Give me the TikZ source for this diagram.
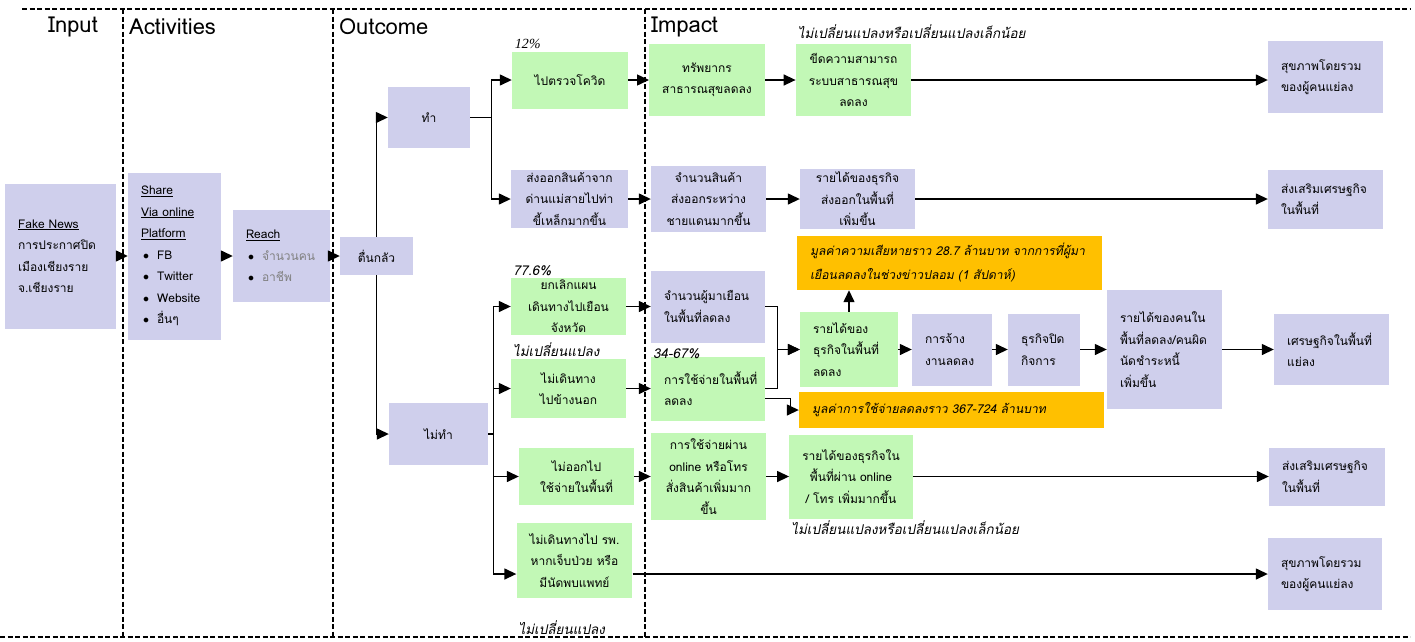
\documentclass[tikz,border=0pt]{standalone}
\usepackage{fontspec}
\setmainfont{Loma}[Script=Thai]
\newfontfamily\thaiit{Loma}[Script=Thai, FakeSlant=0.2]
\newfontfamily\timesit{Liberation Serif}[FakeSlant=0.2]
\usepackage{tikz}
\usetikzlibrary{arrows.meta}
\definecolor{lavfill}{RGB}{207,207,236}
\definecolor{grnfill}{RGB}{194,248,182}
\definecolor{orgfill}{RGB}{255,192,0}
\newcommand{\boxfont}{\fontsize{12}{21.5}\selectfont}
\newcommand{\itm}[1]{\hspace*{2pt}$\bullet$\hspace{8pt}#1}
\tikzstyle{lav} = [rectangle, fill=lavfill, inner xsep=13pt, inner ysep=0pt, font=\boxfont, align=center]
\tikzstyle{grn} = [rectangle, fill=grnfill, inner xsep=13pt, inner ysep=0pt, font=\boxfont, align=center]
\tikzstyle{org} = [rectangle, fill=orgfill, inner xsep=13pt, inner ysep=0pt, font=\thaiit\fontsize{12.2}{24}\selectfont, align=left]
\tikzstyle{note} = [inner sep=2pt, font=\thaiit\fontsize{13.5}{16}\selectfont]
\tikzstyle{head} = [inner sep=0pt, font=\fontsize{22}{26}\selectfont]
\tikzstyle{sep} = [line width=1.3pt, dash pattern=on 5pt off 2.5pt]
\tikzstyle{arrow} = [line width=1.4pt, -{Triangle[length=12pt, width=11pt]}]

\begin{document}
\begin{tikzpicture}[x=1pt, y=1pt, node distance=145pt]
\useasboundingbox (0,0) rectangle (1415,-641);
% column frame
\draw [sep] (22,-9) -- (1410,-9);
\draw [sep] (0,-637) -- (1410,-637);
\draw [sep] (123,-9) -- (123,-637);
\draw [sep] (333,-9) -- (333,-637);
\draw [sep] (645,-9) -- (645,-637);
\node (hinput) [head] at (73,-27) {Input};
\node (hact) [head, anchor=west] at (129,-27) {Activities};
\node (hout) [head, anchor=west] at (339,-27) {Outcome};
\node (himp) [head, anchor=west] at (651,-27) {Impact};

% input and activities
\node (fake) [lav, align=left, text width=85pt, minimum height=145pt] at (60.5,-256) {\underline{Fake News}\\การประกาศปิด\\เมืองเชียงราย\\จ.เชียงราย};
\node (share) [lav, align=left, text width=67pt, minimum height=167pt, right of=fake, xshift=-31pt] {\underline{Share}\\\underline{Via online}\\\underline{Platform}\\\itm{FB}\\\itm{Twitter}\\\itm{Website}\\\itm{อื่นๆ}};
\node (reach) [lav, align=left, text width=71pt, minimum height=92pt, right of=share, xshift=-38pt] {\underline{Reach}\\\itm{\textcolor{gray}{จำนวนคน}}\\\itm{\textcolor{gray}{อาชีพ}}};
\draw [arrow] (fake) -- (share);
\draw [arrow] (share) -- (reach);

% outcome
\node (panic) [lav, minimum width=73pt, minimum height=38pt, right of=reach, xshift=-50pt] {ตื่นกลัว};
\draw [arrow] (reach) -- (panic);
\node (do) [lav, minimum width=82pt, minimum height=61pt, right of=panic, xshift=-92.5pt, yshift=138.5pt] {ทำ};
\node (dont) [lav, minimum width=99pt, minimum height=62pt, right of=panic, xshift=-83pt, yshift=-178pt] {ไม่ทำ};
\draw [arrow] (panic.north) |- (do.west);
\draw [arrow] (panic.south) |- (dont.west);
\node (covid) [grn, minimum width=116pt, minimum height=57pt, right of=do, xshift=-4pt, yshift=37.5pt] {ไปตรวจโควิด};
\node (export) [lav, minimum width=117pt, minimum height=58pt, right of=do, xshift=-4.5pt, yshift=-81.5pt] {ส่งออกสินค้าจาก\\ด่านแม่สายไปท่า\\ขี้เหล็กมากขึ้น};
\draw [arrow] (do.east) -- ++(21,0) |- (covid.west);
\draw [arrow] (do.east) -- ++(21,0) |- (export.west);
\node (cancel) [grn, minimum width=115pt, minimum height=57pt, right of=dont, xshift=-15pt, yshift=127.5pt] {ยกเลิกแผน\\เดินทางไปเยือน\\จังหวัด};
\node (notravel) [grn, minimum width=115pt, minimum height=59pt, right of=dont, xshift=-15pt, yshift=45.5pt] {ไม่เดินทาง\\ไปข้างนอก};
\node (noout) [grn, minimum width=115pt, minimum height=57pt, right of=dont, xshift=-7pt, yshift=-42.5pt] {ไม่ออกไป\\ใช้จ่ายในพื้นที่};
\node (nohosp) [grn, minimum width=115pt, minimum height=75pt, right of=dont, xshift=-9pt, yshift=-126.5pt] {ไม่เดินทางไป รพ.\\หากเจ็บป่วย หรือ\\มีนัดพบแพทย์};

% impact
\node (res) [grn, minimum width=112pt, minimum height=72pt, right of=covid, xshift=-8pt] {ทรัพยากร\\สาธารณสุขลดลง};
\node (cap) [grn, minimum width=115pt, minimum height=72pt, right of=res, xshift=1.5pt] {ขีดความสามารถ\\ระบบสาธารณสุข\\ลดลง};
\node (health1) [lav, align=left, text width=89pt, minimum height=72pt, right of=cap, xshift=327pt, yshift=3pt] {สุขภาพโดยรวม\\ของผู้คนแย่ลง};
\node (goods) [lav, minimum width=115pt, minimum height=66pt, right of=export, xshift=-6pt] {จำนวนสินค้า\\ส่งออกระหว่าง\\ชายแดนมากขึ้น};
\node (bizinc) [lav, minimum width=115pt, minimum height=60pt, right of=goods, xshift=4pt] {รายได้ของธุรกิจ\\ส่งออกในพื้นที่\\เพิ่มขึ้น};
\node (promo1) [lav, align=left, text width=89pt, minimum height=59pt, right of=bizinc, xshift=323pt] {ส่งเสริมเศรษฐกิจ\\ในพื้นที่};
\node (visitors) [lav, align=left, text width=88pt, minimum height=72pt, right of=cancel, xshift=-5.5pt] {จำนวนผู้มาเยือน\\ในพื้นที่ลดลง};
\node (spend) [grn, align=left, text width=88pt, minimum height=64pt, right of=notravel, xshift=-5.5pt] {การใช้จ่ายในพื้นที่\\ลดลง};
\node (bizdec) [grn, align=left, text width=72pt, minimum height=75pt, right of=visitors, xshift=-4pt, yshift=-43pt] {รายได้ของ\\ธุรกิจในพื้นที่\\ลดลง};
\node (loss1) [org, text width=279pt, minimum height=54pt, right of=bizdec, xshift=-44.5pt, yshift=86.5pt] {มูลค่าความเสียหายราว 28.7 ล้านบาท จากการที่ผู้มา\\เยือนลดลงในช่วงข่าวปลอม (1 สัปดาห์)};
\node (loss2) [org, text width=279pt, minimum height=36pt, right of=bizdec, xshift=-42.5pt, yshift=-60.5pt] {มูลค่าการใช้จ่ายลดลงราว 367-724 ล้านบาท};
\node (employ) [lav, align=left, text width=54pt, minimum height=72pt, right of=bizdec, xshift=-42pt] {การจ้าง\\งานลดลง};
\node (close) [lav, align=left, text width=46pt, minimum height=72pt, right of=employ, xshift=-53pt] {ธุรกิจปิด\\กิจการ};
\node (income) [lav, align=left, text width=89pt, minimum height=119pt, right of=close, xshift=-24.5pt] {รายได้ของคนใน\\พื้นที่ลดลง/คนผิด\\นัดชำระหนี้\\เพิ่มขึ้น};
\node (econ) [lav, align=left, text width=89pt, minimum height=71pt, right of=income, xshift=22pt] {เศรษฐกิจในพื้นที่\\แย่ลง};
\node (online) [grn, minimum width=115pt, minimum height=87pt, right of=noout, xshift=-13pt] {การใช้จ่ายผ่าน\\online หรือโทร\\สั่งสินค้าเพิ่มมาก\\ขึ้น};
\node (bizonline) [grn, minimum width=116pt, minimum height=84pt, right of=online, xshift=-2.5pt] {รายได้ของธุรกิจใน\\พื้นที่ผ่าน online\\/ โทร เพิ่มมากขึ้น};
\node (promo2) [lav, align=left, text width=90pt, minimum height=58pt, right of=bizonline, xshift=331pt] {ส่งเสริมเศรษฐกิจ\\ในพื้นที่};
\node (health2) [lav, align=left, text width=88pt, minimum height=72pt, right of=nohosp, xshift=605.5pt, yshift=-13.5pt] {สุขภาพโดยรวม\\ของผู้คนแย่ลง};

% notes
\node (p12) [inner sep=2pt, font=\timesit\fontsize{14}{16}\selectfont, anchor=south west] at (covid.north west) {12\%};
\node (same1) [note, anchor=south west] at ([yshift=3pt]cap.north west) {ไม่เปลี่ยนแปลงหรือเปลี่ยนแปลงเล็กน้อย};
\node (p776) [note, anchor=south west] at (cancel.north west) {77.6\%};
\node (same2) [note, anchor=south west] at (notravel.north west) {ไม่เปลี่ยนแปลง};
\node (p3467) [note, anchor=west] at ([yshift=3pt]spend.north west) {34-67\%};
\node (same3) [note, anchor=north west] at (bizonline.south west) {ไม่เปลี่ยนแปลงหรือเปลี่ยนแปลงเล็กน้อย};
\node (same4) [note, anchor=north west] at ([yshift=-20pt]nohosp.south west) {ไม่เปลี่ยนแปลง};

% connectors
\draw [arrow] (dont.east) -- ++(5,0) |- (cancel.west);
\draw [arrow] (dont.east) -- ++(5,0) |- (notravel.west);
\draw [arrow] (dont.east) -- ++(5,0) |- (noout.west);
\draw [arrow] (dont.east) -- ++(5,0) |- (nohosp.west |- health2);
\draw [arrow] (covid) -- (res);
\draw [arrow] (res) -- (cap);
\draw [arrow] (cap) -- (cap -| health1.west);
\draw [arrow] (export) -- (goods);
\draw [arrow] (goods) -- (bizinc);
\draw [arrow] (bizinc) -- (promo1);
\draw [arrow] (cancel) -- (visitors);
\draw [arrow] (notravel) -- (spend);
\draw [arrow] (visitors.east) -- ++(12,0) |- (bizdec.west);
\draw [arrow] (spend.east) -- ++(12,0) |- (bizdec.west);
\draw [arrow] ([yshift=-10pt]spend.east) -- ++(25,0) |- (loss2.west);
\draw [arrow] (bizdec) -- (bizdec |- loss1.south);
\draw [arrow] (bizdec) -- (employ);
\draw [arrow] (employ) -- (close);
\draw [arrow] (close) -- (income);
\draw [arrow] (income) -- (econ);
\draw [arrow] (noout) -- (online);
\draw [arrow] (online) -- (bizonline);
\draw [arrow] (bizonline) -- (promo2);
\draw [arrow] (nohosp.east |- health2) -- (health2.west);
\end{tikzpicture}
\end{document}
